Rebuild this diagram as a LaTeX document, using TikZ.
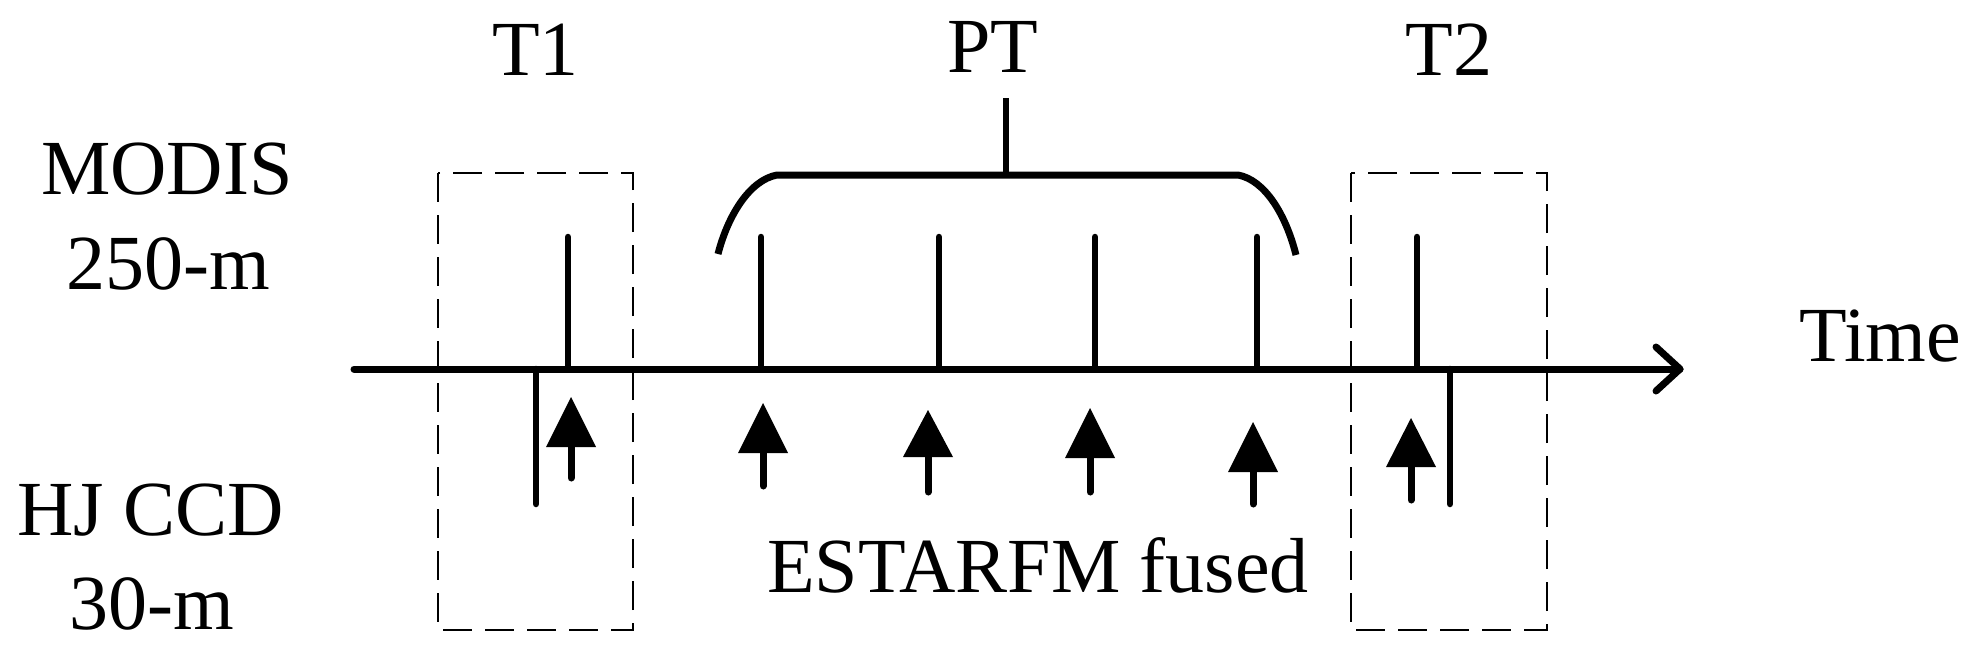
\documentclass[tikz,border=0pt]{standalone}
\usepackage{fontspec}
\setmainfont{Liberation Serif}
\begin{document}
\begin{tikzpicture}[x=1pt,y=-1pt,
  lbl/.style={anchor=base,inner sep=0pt,font=\fontsize{78}{90}\selectfont},
  axisline/.style={line width=7pt,line cap=round,line join=round},
  tick/.style={line width=6.5pt,line cap=round},
  bracel/.style={line width=7pt,line join=round},
  shaft/.style={line width=7pt,line cap=round},
  dbox/.style={line width=2.3pt,dash pattern=on 29pt off 13pt}]
\useasboundingbox (0,0) rectangle (1979,651);
% labels
\node[lbl] (t1) at (535.5,75) {T1};
\node[lbl] (pt) at (993,72) {PT};
\node[lbl] (t2) at (1449,75) {T2};
\node[lbl] (modis) at (167,194) {MODIS};
\node[lbl] (res1) at (168.5,289) {250-m};
\node[lbl] (hj) at (150.5,535) {HJ CCD};
\node[lbl] (res2) at (152,629) {30-m};
\node[lbl] (time) at (1880,361) {Time};
\node[lbl] (fused) at (1038,592) {ESTARFM fused};
% dashed boxes
\draw[dbox] (438,173) rectangle (633,630);
\draw[dbox] (1351,173) rectangle (1547,630);
% axis
\coordinate (a0) at (354,369);
\coordinate (a1) at (1680,369);
\draw[axisline] (a0) -- (a1);
\draw[axisline] (1656,347) -- (a1) -- (1656,391);
% MODIS ticks
\foreach \x in {568,761,939,1095,1257,1417}{
  \draw[tick] (\x,237) -- (\x,369);
}
% HJ ticks
\foreach \x in {536,1450}{
  \draw[tick] (\x,369) -- (\x,504);
}
% fused arrows: x, tip, base, tail
\foreach \x/\t/\b/\e in {571/397/447/478, 763/403/453/486, 928/410/457/492, 1090/408/458/492, 1253/422/472/504, 1411/418/467/500}{
  \fill (\x-25,\b) -- (\x,\t) -- (\x+25,\b) -- cycle;
  \draw[shaft] (\x,\e) -- (\x,\b-2);
}
% PT bracket
\coordinate (bl) at (718,254);
\coordinate (br) at (1296,255);
\coordinate (stem) at (1006,98);
\draw[bracel] (bl) .. controls (728,215) and (750,180) .. (777,175)
  -- (1238,175) .. controls (1265,180) and (1286,215) .. (br);
\draw[line width=6.5pt] (stem) -- (1006,175);
\end{tikzpicture}
\end{document}
